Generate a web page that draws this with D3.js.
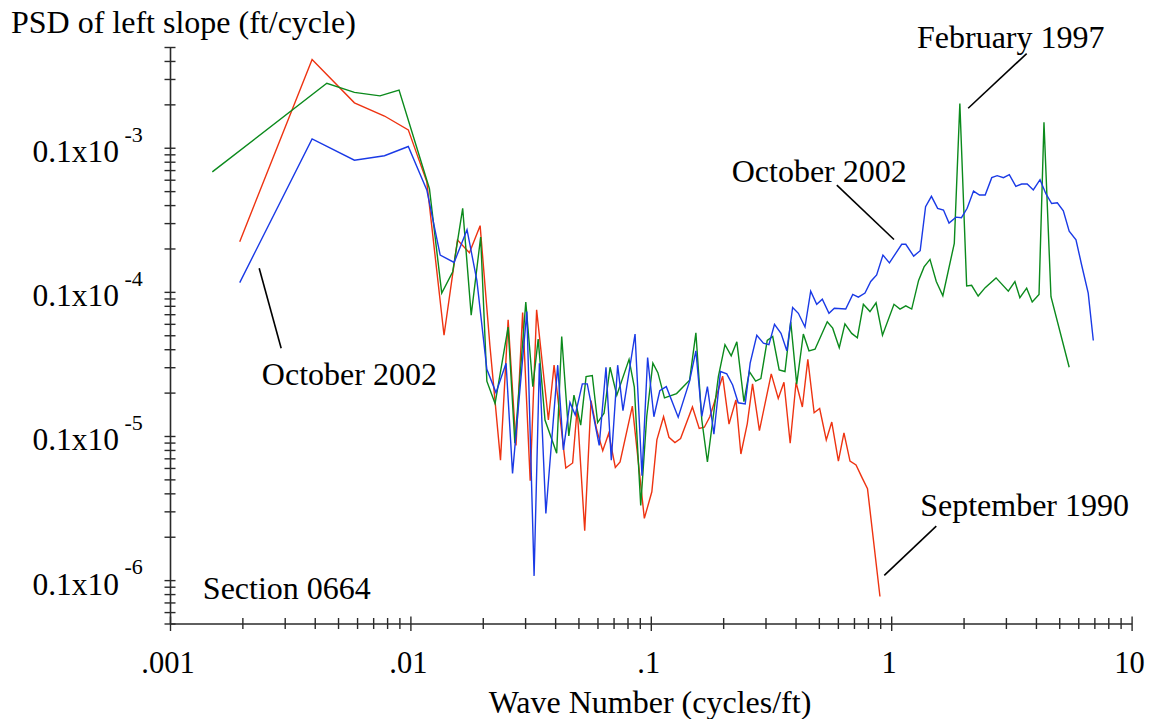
<!DOCTYPE html>
<html><head><meta charset="utf-8">
<script src="https://cdn.jsdelivr.net/npm/d3@7"></script>
<style>
body{margin:0;background:#fff;}
svg{display:block;font-family:"Liberation Serif","Times New Roman",Times,serif;}
</style></head>
<body><svg id="chart" width="1154" height="719"></svg>
<script>
// ---------------- data (wave number in cycles/ft, PSD in ft/cycle) ----------------
const sep1990X = [0.00195,0.0039,0.00585,0.0078,0.0098,0.0117,0.0138,0.0157,0.0176,0.0195,
  0.0214,0.0237,0.0255,0.0275,0.0293,0.0315,0.0335,0.0375,0.0396,0.0443,
  0.0473,0.0494,0.0531,0.0564,0.0596,0.0631,0.0668,0.0712,0.0745,0.0838,
  0.094,0.101,0.106,0.113,0.119,0.126,0.133,0.149,0.159,0.167,
  0.176,0.199,0.2115,0.226,0.237,0.252,0.265,0.283,0.317,0.339,
  0.358,0.38,0.402,0.427,0.45,0.478,0.504,0.537,0.566,0.603,
  0.636,0.674,0.714,0.758,0.797,0.898];
const sep1990Y = [2.23e-5,4.1e-4,2.05e-4,1.66e-4,1.33e-4,5.8e-5,5.0e-6,2.29e-5,1.87e-5,2.88e-5,
  4.3e-6,6.8e-7,6.4e-6,8.6e-7,7.2e-6,4.9e-7,7.5e-6,1.29e-6,3.1e-6,6.0e-7,
  6.5e-7,1.55e-6,2.2e-7,1.76e-6,1.1e-6,7.9e-7,1.04e-6,6.05e-7,6.6e-7,1.61e-6,
  2.68e-7,4.1e-7,9.4e-7,1.36e-6,9.8e-7,9.0e-7,9.6e-7,1.59e-6,1.13e-6,1.15e-6,
  1.36e-6,2.6e-6,1.21e-6,1.78e-6,7.5e-7,1.22e-6,2.3e-6,1.09e-6,2.7e-6,1.82e-6,
  2.36e-6,8.9e-7,2.35e-6,1.59e-6,3.4e-6,1.45e-6,1.55e-6,9.4e-7,1.25e-6,6.7e-7,
  1.05e-6,6.7e-7,6.3e-7,5.1e-7,4.3e-7,7.7e-8];

const feb1997X = [0.0015,0.00449,0.00585,0.00747,0.00897,0.012,0.0135,0.015,0.0165,0.0179,
  0.0196,0.0208,0.0225,0.0255,0.0272,0.0302,0.0323,0.034,0.0363,0.0406,
  0.0426,0.0456,0.0479,0.0511,0.0538,0.0571,0.0601,0.0639,0.0677,0.0722,
  0.0812,0.0854,0.0908,0.0962,0.102,0.107,0.114,0.128,0.145,0.154,
  0.163,0.172,0.191,0.2035,0.216,0.228,0.244,0.257,0.273,0.287,
  0.305,0.3215,0.342,0.3615,0.382,0.4045,0.431,0.455,0.482,0.509,
  0.542,0.571,0.608,0.642,0.685,0.723,0.766,0.816,0.865,0.92,
  1.027,1.088,1.15,1.217,1.3,1.37,1.45,1.54,1.64,1.83,
  1.93,2.06,2.16,2.3,2.46,2.73,3.07,3.27,3.43,3.66,
  3.86,4.12,4.32,4.62,5.5];
const feb1997Y = [6.8e-5,2.8e-4,2.42e-4,2.29e-4,2.51e-4,5.2e-5,9.8e-6,1.38e-5,3.8e-5,6.9e-6,
  2.4e-5,2.4e-6,1.68e-6,5.7e-6,8.9e-7,8.5e-6,2.2e-6,4.7e-6,1.29e-6,7.6e-7,
  4.9e-6,1.0e-6,1.92e-6,1.19e-6,2.58e-6,2.63e-6,1.24e-6,1.44e-6,3.0e-6,1.92e-6,
  3.4e-6,2.18e-6,3.3e-7,1.37e-6,3.2e-6,2.75e-6,1.84e-6,1.97e-6,2.44e-6,5.2e-6,
  1.29e-6,6.6e-7,2.58e-6,4.3e-6,3.6e-6,4.5e-6,1.73e-6,2.8e-6,2.4e-6,2.5e-6,
  4.6e-6,4.9e-6,2.87e-6,2.8e-6,6.2e-6,2.29e-6,5.1e-6,3.9e-6,4.0e-6,4.9e-6,
  6.2e-6,5.6e-6,4.1e-6,6.0e-6,5.15e-6,4.8e-6,8.2e-6,7.3e-6,8.4e-6,5.0e-6,
  8.2e-6,7.6e-6,8.0e-6,7.6e-6,1.2e-5,1.49e-5,1.68e-5,1.18e-5,9.4e-6,2.17e-5,
  2.03e-4,1.1e-5,1.11e-5,9.35e-6,1.07e-5,1.25e-5,1.01e-5,1.18e-5,9.1e-6,1.06e-5,
  8.5e-6,9.6e-6,1.5e-4,9.25e-6,3.0e-6];

const oct2002X = [0.00195,0.0039,0.00585,0.0078,0.0098,0.0117,0.0133,0.0152,0.0172,0.0189,
  0.0208,0.0227,0.025,0.0266,0.0305,0.0327,0.0344,0.0366,0.041,0.0433,
  0.0461,0.0485,0.0519,0.0544,0.061,0.0651,0.0685,0.0728,0.0766,0.086,
  0.0919,0.097,0.103,0.109,0.116,0.13,0.145,0.154,0.163,0.172,
  0.183,0.195,0.207,0.219,0.231,0.247,0.259,0.276,0.294,0.31,
  0.327,0.348,0.368,0.389,0.411,0.438,0.4625,0.49,0.517,0.551,
  0.58,0.647,0.692,0.73,0.778,0.822,0.87,0.924,0.983,1.044,
  1.106,1.15,1.24,1.32,1.39,1.47,1.56,1.65,1.74,1.86,
  1.96,2.07,2.2,2.33,2.46,2.62,2.76,2.93,3.1,3.3,
  3.49,3.68,3.9,4.16,4.4,4.65,4.91,5.2,5.5,5.87,
  6.2,6.6,6.93];
const oct2002Y = [1.16e-5,1.15e-4,8.2e-5,8.8e-5,1.02e-4,5.1e-5,1.8e-5,1.6e-5,2.7e-5,1.2e-5,
  2.9e-6,2.0e-6,3.2e-6,5.5e-7,7.3e-6,1.07e-7,3.2e-6,2.9e-7,3.1e-6,8.0e-7,
  1.71e-6,1.4e-6,2.3e-6,2.3e-6,8.6e-7,3.0e-6,6.8e-7,3.1e-6,1.5e-6,5.1e-6,
  5.3e-7,3.5e-6,1.36e-6,2.06e-6,2.2e-6,1.35e-6,2.4e-6,3.9e-6,1.37e-6,2.2e-6,
  1.03e-6,2.8e-6,2.7e-6,2.26e-6,1.7e-6,1.67e-6,3.2e-6,5.0e-6,4.4e-6,4.3e-6,
  5.95e-6,5.15e-6,3.9e-6,7.8e-6,7.1e-6,5.7e-6,1.01e-5,8.2e-6,8.9e-6,7.1e-6,
  7.7e-6,7.6e-6,9.6e-6,9.2e-6,9.8e-6,1.18e-5,1.31e-5,1.8e-5,1.59e-5,1.85e-5,
  2.14e-5,2.14e-5,1.77e-5,1.93e-5,3.9e-5,4.6e-5,3.8e-5,3.7e-5,3.0e-5,3.3e-5,
  3.27e-5,3.8e-5,5.0e-5,4.7e-5,4.7e-5,6.2e-5,6.4e-5,6.2e-5,6.5e-5,5.4e-5,
  5.6e-5,5.6e-5,5.1e-5,6.0e-5,4.8e-5,4.1e-5,4.15e-5,3.65e-5,2.64e-5,2.3e-5,
  1.53e-5,9.8e-6,4.6e-6];

const xTickValues = [0.001, 0.01, 0.1, 1, 10];
const xTickLabels = [".001", ".01", ".1", "1", "10"];
const yTickValues = [1e-4, 1e-5, 1e-6, 1e-7];
const yTickMantissa = ["0.1x10", "0.1x10", "0.1x10", "0.1x10"];
const yTickExponent = ["-3", "-4", "-5", "-6"];

// annotation texts and their anchor points in data units
const annoText = ["October 2002", "October 2002", "February 1997", "September 1990", "Section 0664"];
const annoTextX = [0.00241, 0.217, 1.28, 1.32, 0.00137];
const annoTextY = [2.26e-6, 5.8e-5, 4.9e-4, 2.8e-7, 7.4e-8];
const leaderX1 = [0.00235, 0.594, 3.66, 1.54];
const leaderY1 = [1.46e-5, 5.5e-5, 4.5e-4, 2.37e-7];
const leaderX2 = [0.0029, 1.027, 2.09, 0.936];
const leaderY2 = [4.06e-6, 2.31e-5, 1.88e-4, 1.08e-7];

// ---------------- chart ----------------
const svg = d3.select("#chart");
const axisColor = "#2a2a2a";
const x = d3.scaleLog().domain([0.001, 10]).range([170, 1131.6]);
const y = d3.scaleLog().domain([5e-8, 5e-4]).range([623.5, 47]);
const isMajor = d => Math.abs(Math.log10(d) - Math.round(Math.log10(d))) < 1e-6;

// x axis
const gx = svg.append("g").attr("transform", `translate(0,${y.range()[0]})`)
  .call(d3.axisBottom(x).tickValues(x.ticks()).tickFormat("").tickSizeOuter(0));
gx.select(".domain").attr("stroke", axisColor).attr("stroke-width", 1.6);
gx.selectAll(".tick line").attr("stroke", axisColor).attr("stroke-width", 1.4)
  .attr("y1", d => isMajor(d) ? -7 : -5.5).attr("y2", d => isMajor(d) ? 7.5 : 5.5);
gx.selectAll(".tick text").remove();

// y axis
const gy = svg.append("g").attr("transform", `translate(${x.range()[0]},0)`)
  .call(d3.axisLeft(y).tickValues(y.ticks()).tickFormat("").tickSizeOuter(0));
gy.select(".domain").attr("stroke", axisColor).attr("stroke-width", 1.6);
gy.selectAll(".tick line").attr("stroke", axisColor).attr("stroke-width", 1.4)
  .attr("x1", -5.5).attr("x2", 5.5);
gy.selectAll(".tick text").remove();

// x tick labels
svg.append("g").selectAll("text").data(xTickValues).join("text")
  .attr("x", d => x(d) - 2).attr("y", 673)
  .attr("text-anchor", "middle").attr("font-size", 30.5).attr("fill", "#000")
  .text((d, i) => xTickLabels[i]);

// y tick labels with superscript exponent
const yl = svg.append("g");
yl.selectAll("text.m").data(yTickValues).join("text").attr("class", "m")
  .attr("x", x.range()[0] - 51).attr("y", d => y(d) + 14.5)
  .attr("text-anchor", "end").attr("font-size", 31.5).attr("fill", "#000")
  .text((d, i) => yTickMantissa[i]);
yl.selectAll("text.e").data(yTickValues).join("text").attr("class", "e")
  .attr("x", x.range()[0] - 45.5).attr("y", d => y(d) - 6)
  .attr("text-anchor", "start").attr("font-size", 22).attr("fill", "#000")
  .text((d, i) => yTickExponent[i]);

// axis titles
svg.append("text").attr("x", 11).attr("y", 33).attr("font-size", 32).attr("fill", "#000")
  .text("PSD of left slope (ft/cycle)");
svg.append("text").attr("x", 650).attr("y", 713).attr("text-anchor", "middle")
  .attr("font-size", 32).attr("fill", "#000").text("Wave Number (cycles/ft)");

// series
const series = [
  {name: "September 1990", xs: sep1990X, ys: sep1990Y, color: "#ee3311"},
  {name: "February 1997", xs: feb1997X, ys: feb1997Y, color: "#0b8a1c"},
  {name: "October 2002", xs: oct2002X, ys: oct2002Y, color: "#1a3ae6"}
];
const line = d3.line().x(d => x(d[0])).y(d => y(d[1]));
svg.append("g").selectAll("path").data(series).join("path")
  .attr("fill", "none").attr("stroke", d => d.color).attr("stroke-width", 1.4)
  .attr("stroke-linejoin", "miter")
  .attr("d", d => line(d.xs.map((v, i) => [v, d.ys[i]])));

// annotations
svg.append("g").selectAll("line").data(leaderX1).join("line")
  .attr("x1", (d, i) => x(leaderX1[i])).attr("y1", (d, i) => y(leaderY1[i]))
  .attr("x2", (d, i) => x(leaderX2[i])).attr("y2", (d, i) => y(leaderY2[i]))
  .attr("stroke", "#000").attr("stroke-width", 1.6);
svg.append("g").selectAll("text").data(annoText).join("text")
  .attr("x", (d, i) => x(annoTextX[i])).attr("y", (d, i) => y(annoTextY[i]))
  .attr("font-size", 32).attr("fill", "#000").text(d => d);
</script>
</body></html>
